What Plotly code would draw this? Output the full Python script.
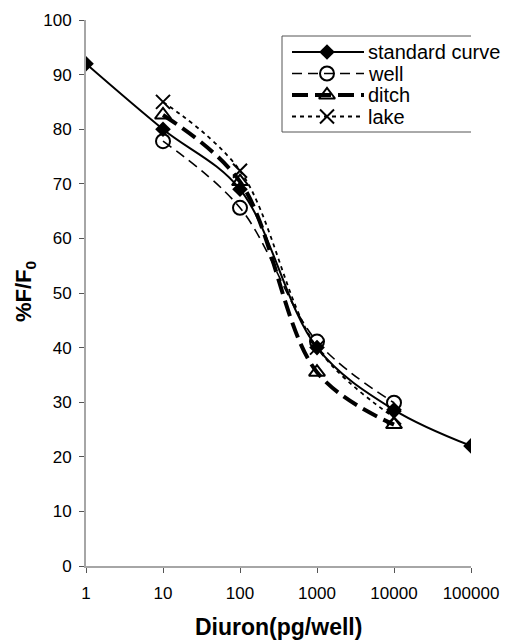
import plotly.graph_objects as go

# Data
std_x = [1, 10, 100, 1000, 10000, 100000]
std_y = [92, 80, 69, 40, 28.6, 22]

sample_x = [10, 100, 1000, 10000]
well_y = [77.8, 65.6, 41.1, 29.9]
ditch_y = [82.6, 70.4, 35.5, 25.9]
lake_y = [85.0, 72.4, 40.0, 27.2]

series_names = ["standard curve", "well", "ditch", "lake"]

x_ticks = [1, 10, 100, 1000, 10000, 100000]
x_tick_labels = ["1", "10", "100", "1000", "10000", "100000"]
y_ticks = list(range(0, 101, 10))

FONT = "Liberation Sans, Arial, sans-serif"

W, H = 513, 642
OFF = 8  # page body margin offsets the figure in the window
# plot area in window pixels
PX0, PX1, PY0, PY1 = 86, 471, 20, 566
PW = PX1 - PX0
PH = PY1 - PY0

styles = [
    dict(line=dict(color="black", width=2),
         marker=dict(symbol="diamond", size=12, color="black")),
    dict(line=dict(color="black", width=1.6, dash="10px,6px"),
         marker=dict(symbol="circle-open", size=14, color="black", line=dict(width=2))),
    dict(line=dict(color="black", width=4, dash="16px,7px"),
         marker=dict(symbol="triangle-up-open", size=14, color="black", line=dict(width=2))),
    dict(line=dict(color="black", width=1.8, dash="4px,4px"),
         marker=dict(symbol="x-thin-open", size=14, color="black", line=dict(width=2))),
]

xs = [std_x, sample_x, sample_x, sample_x]
ys = [std_y, well_y, ditch_y, lake_y]

fig = go.Figure()
for name, x, y, st in zip(series_names, xs, ys, styles):
    fig.add_trace(go.Scatter(
        x=x, y=y, name=name, mode="lines+markers",
        line=dict(**st["line"], shape="spline", smoothing=1),
        marker=st["marker"], showlegend=False,
    ))

# Manual legend drawn on an overlay axis measured in window pixels
leg_left, leg_right, leg_top, leg_bottom = 282, 510, 36, 132
row_y = [52, 73.5, 95, 116.5]
sample_l, sample_r, sample_m = 292, 364, 327
for name, ry, st in zip(series_names, row_y, styles):
    fig.add_trace(go.Scatter(
        x=[sample_l, sample_r], y=[ry, ry], mode="lines", xaxis="x2", yaxis="y2",
        line=st["line"], showlegend=False, cliponaxis=False, hoverinfo="skip",
    ))
    fig.add_trace(go.Scatter(
        x=[sample_m], y=[ry], mode="markers", xaxis="x2", yaxis="y2",
        marker=st["marker"], showlegend=False, cliponaxis=False, hoverinfo="skip",
    ))
    fig.add_annotation(
        x=366, y=ry, xref="x2", yref="y2", text=name, showarrow=False,
        xanchor="left", yanchor="middle",
        font=dict(family=FONT, size=20, color="black"),
    )

fig.add_shape(
    type="rect", x0=leg_left, x1=leg_right, y0=leg_top, y1=leg_bottom,
    xref="x2", yref="y2", line=dict(color="#555555", width=1), fillcolor="rgba(0,0,0,0)",
    layer="below",
)

axis_common = dict(
    showgrid=False, zeroline=False, showline=True, linecolor="#a6a6a6", linewidth=2,
    ticks="outside", ticklen=5, tickcolor="#555555", tickwidth=1,
    tickfont=dict(family=FONT, size=17, color="black"), mirror=False, automargin=False,
)

fig.update_layout(
    width=W, height=H,
    margin=dict(l=PX0 - OFF, r=W - (PX1 - OFF), t=PY0 - OFF, b=H - (PY1 - OFF)),
    plot_bgcolor="white", paper_bgcolor="white",
    font=dict(family=FONT, color="black"),
    showlegend=False,
    xaxis=dict(type="log", range=[0, 5], tickvals=x_ticks, ticktext=x_tick_labels,
               ticklabelstandoff=6, **axis_common),
    yaxis=dict(range=[0, 100], tickvals=y_ticks, ticklabelstandoff=4, **axis_common),
    xaxis2=dict(overlaying="x", range=[PX0, PX1], visible=False, fixedrange=True),
    yaxis2=dict(overlaying="y", range=[PY1, PY0], visible=False, fixedrange=True),
)

fig.add_annotation(
    x=(278 - PX0) / PW, y=(PY1 - 627) / PH, xref="paper", yref="paper",
    text="<b>Diuron(pg/well)</b>", showarrow=False, xanchor="center", yanchor="middle",
    font=dict(family=FONT, size=23, color="black"),
)
fig.add_annotation(
    x=(25 - PX0) / PW, y=(PY1 - 292) / PH, xref="paper", yref="paper", textangle=-90,
    text="<b>%F/F<sub>0</sub></b>", showarrow=False, xanchor="center", yanchor="middle",
    font=dict(family=FONT, size=22, color="black"),
)

fig.write_html("out.html")
